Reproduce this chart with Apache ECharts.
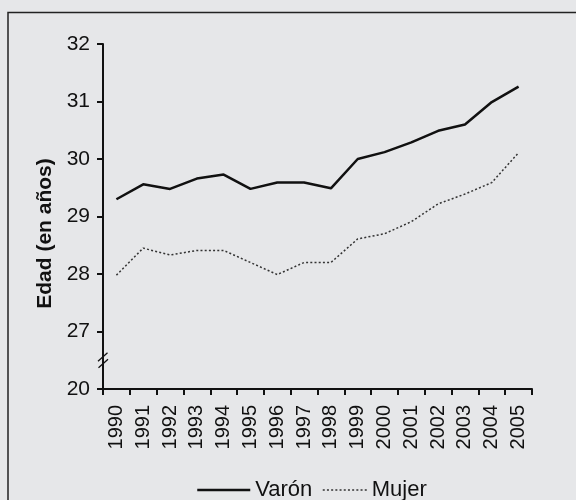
<!DOCTYPE html>
<html>
<head>
<meta charset="utf-8">
<script src="https://cdn.jsdelivr.net/npm/echarts@6/dist/echarts.min.js"></script>
<style>html,body{margin:0;padding:0;background:#e6e7e9;}#c{width:576px;height:500px;}</style>
</head>
<body>
<div id="c"></div>
<script>
const years = ['1990','1991','1992','1993','1994','1995','1996','1997','1998','1999','2000','2001','2002','2003','2004','2005'];
const varon = [29.30,29.56,29.48,29.66,29.73,29.48,29.59,29.59,29.49,30.00,30.12,30.29,30.49,30.60,30.99,31.26];
const mujer = [27.98,28.45,28.33,28.41,28.41,28.20,27.99,28.20,28.20,28.61,28.70,28.91,29.22,29.39,29.59,30.11];
const yTicks = [26,27,28,29,30,31,32];
const yTickLabels = ['20','27','28','29','30','31','32'];
const yName = 'Edad (en años)';
const BG = '#e6e7e9';

const chart = echarts.init(document.getElementById('c'), null, {renderer:'canvas'});
const font = 'Liberation Sans, Arial, sans-serif';
chart.setOption({
  backgroundColor: BG,
  animation: false,
  grid: {left:103, right:44, top:44, bottom:111, containLabel:false},
  xAxis: {
    type:'category', data: years, boundaryGap:true,
    axisLine:{show:true, lineStyle:{color:'#111', width:2}},
    axisTick:{show:true, alignWithLabel:false, length:6, lineStyle:{color:'#111', width:2}},
    axisLabel:{rotate:90, margin:16, fontSize:20, color:'#111', fontFamily:font, interval:0}
  },
  yAxis: {
    type:'value', min:yTicks[0], max:yTicks[yTicks.length-1], interval:1,
    axisLine:{show:true, lineStyle:{color:'#111', width:2}},
    axisTick:{show:true, length:6, lineStyle:{color:'#111', width:2}},
    splitLine:{show:false},
    axisLabel:{margin:13, fontSize:21, color:'#111', fontFamily:font,
      formatter: v => { const i = yTicks.indexOf(v); return i>=0 ? yTickLabels[i] : ''; }}
  },
  legend: [
    {data:['Varón'], left:191, top:474, itemWidth:53, itemHeight:14, itemGap:0,
     itemStyle:{opacity:0}, lineStyle:{width:2.5, color:'#111'},
     textStyle:{fontSize:22, color:'#111', fontFamily:font}},
    {data:['Mujer'], left:317, top:474, itemWidth:44, itemHeight:14, itemGap:0,
     itemStyle:{opacity:0}, lineStyle:{width:1.5, color:'#333', type:[2,2.2]},
     textStyle:{fontSize:22, color:'#111', fontFamily:font}}
  ],
  series: [
    {name:'Varón', type:'line', data:varon, symbol:'none', lineStyle:{color:'#111', width:2.5}, itemStyle:{color:'#111'}},
    {name:'Mujer', type:'line', data:mujer, symbol:'none', lineStyle:{color:'#333', width:1.5, type:[2,2.2]}, itemStyle:{color:'#333'}}
  ]
});

// decorations: frame, y-axis title, axis break mark
const ax = chart.convertToPixel({xAxisIndex:0}, 0) - (chart.convertToPixel({xAxisIndex:0}, 1) - chart.convertToPixel({xAxisIndex:0}, 0))/2;
const by = chart.convertToPixel({yAxisIndex:0}, 26.5);
const topY = chart.convertToPixel({yAxisIndex:0}, 32);
const botY = chart.convertToPixel({yAxisIndex:0}, 26);
chart.setOption({
  graphic: [
    {type:'rect', silent:true, shape:{x:8, y:12.5, width:640, height:640}, style:{fill:null, stroke:'#222', lineWidth:1.5}},
    {type:'text', silent:true, x:45, y:(topY+botY)/2 + 17, rotation:Math.PI/2,
     style:{text:yName, fontSize:21, fontWeight:'bold', fill:'#111', fontFamily:font, align:'center', verticalAlign:'middle'}},
    {type:'polygon', silent:true, shape:{points:[[ax-5,by+1],[ax+5,by-7],[ax+5,by-1],[ax-5,by+7]]}, style:{fill:BG}},
    {type:'line', silent:true, shape:{x1:ax-5, y1:by+1, x2:ax+4.5, y2:by-7.5}, style:{stroke:'#111', lineWidth:1.3}},
    {type:'line', silent:true, shape:{x1:ax-4.5, y1:by+7.5, x2:ax+5, y2:by-1}, style:{stroke:'#111', lineWidth:1.3}}
  ]
});
</script>
</body>
</html>
